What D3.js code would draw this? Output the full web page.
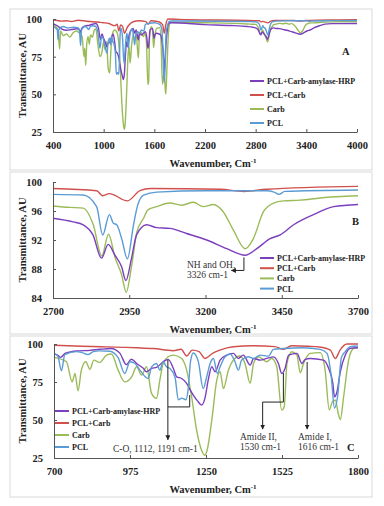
<!DOCTYPE html>
<html>
<head>
<meta charset="utf-8">
<script src="https://cdn.jsdelivr.net/npm/d3@7"></script>
<style>
  body { margin: 0; background: #fff; }
  svg { display: block; font-family: "Liberation Serif", "DejaVu Serif", serif; }
</style>
</head>
<body>
<script>
// series: [wavenumber, transmittance]
var pclCarbAmylaseHrp = [[400,97],[450,95.5],[500,93.5],[560,92.5],[620,93],[680,93.5],[700,93.4],[714,92.5],[724,91.2],[740,93.8],[763,95],[790,95.5],[830,95.8],[866,96.5],[906,97],[938,94],[962,86.4],[980,90],[1000,87],[1023,84],[1035,81.7],[1053,84],[1071,84.6],[1095,88.3],[1113,89.9],[1132,83.9],[1144,78.4],[1162,77.3],[1180,74.1],[1192,70],[1204,66.4],[1220,62.4],[1234,59.8],[1246,64.2],[1258,76.2],[1271,85],[1283,81.7],[1301,89.4],[1325,92.7],[1349,93.8],[1367,90.5],[1385,92.7],[1410,86.1],[1422,90.5],[1446,89.4],[1470,90.5],[1494,91.5],[1512,87.2],[1524,80.6],[1536,83.9],[1549,92.7],[1579,93.8],[1597,87.2],[1609,89.9],[1627,90.5],[1675,89.4],[1694,83.9],[1709,74.1],[1715,65.3],[1724,68.6],[1736,81.7],[1754,92.7],[1772,97.1],[1800,97.5],[2200,96.3],[2500,95.7],[2700,95],[2766,94.5],[2799,94.1],[2831,92.7],[2859,89.5],[2881,91.4],[2903,89.9],[2925,88.3],[2939,86.4],[2957,89.4],[2974,92.7],[3007,94.1],[3040,93.7],[3083,93.6],[3138,92.9],[3204,92.0],[3270,90.8],[3330,89.9],[3368,90.8],[3412,92.2],[3445,92.7],[3489,94.1],[3554,95.5],[3620,96.6],[3700,96.9],[4000,97]];

var pclCarb = [[400,99.5],[450,99],[500,98.6],[560,98.8],[620,98.3],[700,99.2],[800,98.5],[870,98.2],[950,97.8],[1000,97.5],[1060,97],[1131,95.6],[1160,96.5],[1180,92.1],[1200,96],[1225,95],[1246,90.5],[1275,94],[1300,96],[1349,98.2],[1420,98.8],[1500,98.3],[1528,96.5],[1560,98.8],[1620,98.5],[1660,98],[1700,96],[1718,90.5],[1735,96],[1760,100],[2000,99.5],[2700,99.1],[2843,98.8],[2863,98.1],[2885,98.4],[2944,97.4],[2985,98.8],[3020,99.1],[3250,99],[3326,98.7],[3400,99.0],[3700,99.4],[4000,99.5]];

var carb = [[400,96],[430,95],[460,93],[478,80],[490,92],[520,89],[560,90],[600,88],[640,91],[680,92],[700,91.2],[745,88.3],[766,75.1],[776,80.6],[787,69.2],[799,82.8],[815,88.3],[830,83.3],[844,89.4],[866,87.9],[890,92.7],[908,93.4],[932,82.8],[956,75.1],[981,78.4],[999,85],[1017,79.5],[1035,85],[1053,67.5],[1071,64.2],[1083,76.2],[1095,87.2],[1113,91.6],[1132,92.7],[1162,90.5],[1180,82.8],[1198,65.3],[1216,43.3],[1234,30.1],[1245,26.8],[1254,30.1],[1271,50],[1289,76.2],[1301,81.7],[1313,70.7],[1331,82.8],[1349,89.4],[1373,92.1],[1391,87.2],[1410,74.1],[1422,87.2],[1440,91.6],[1470,88.3],[1488,90.5],[1506,85],[1524,56.5],[1533,58.7],[1543,87.2],[1561,94.9],[1579,92.7],[1591,81.1],[1603,87.2],[1627,93.8],[1663,94.3],[1681,82.8],[1696,56.7],[1708,62.2],[1718,63],[1730,53.2],[1736,50.2],[1748,65.3],[1766,89.4],[1784,97.1],[1800,97.8],[2200,97.5],[2700,96.7],[2756,96.5],[2799,96.4],[2832,94.1],[2860,89.8],[2882,92.8],[2904,89.5],[2925,87.2],[2940,84.8],[2958,88.5],[2975,93.1],[2997,95.0],[3012,96.2],[3040,96.6],[3083,97.1],[3122,96.8],[3160,97.2],[3193,96.6],[3226,96.9],[3258,95.9],[3291,93.4],[3330,90.8],[3357,92.2],[3390,95.9],[3423,97.1],[3456,97.4],[3510,97.5],[3576,97.8],[3700,98.1],[4000,98.3]];

var pcl = [[400,95],[430,94],[450,93],[460,86],[470,93],[520,95],[580,94],[640,94.5],[700,94],[714,92],[727,82.4],[739,93],[781,95],[799,94.5],[823,93],[842,95],[866,95.5],[902,95.2],[932,91],[956,80.6],[975,88.3],[993,87.2],[1011,82.8],[1041,77.3],[1053,85],[1071,87.2],[1083,82.8],[1095,88.3],[1107,85],[1119,84],[1138,78],[1150,63.3],[1162,64.4],[1177,63.3],[1186,71],[1194,88.6],[1204,94.1],[1222,88.6],[1240,70.7],[1252,78],[1265,87.2],[1277,90.5],[1291,80.6],[1301,85],[1319,91.6],[1337,93.4],[1355,88.3],[1367,82.8],[1379,89.4],[1403,91.6],[1422,90.5],[1446,92.7],[1476,92],[1494,96.5],[1530,97],[1600,97.5],[1663,96.5],[1688,93.8],[1703,79],[1715,57.8],[1726,65.3],[1740,91.2],[1754,95],[1772,98.2],[1800,98.7],[2700,98.3],[2799,98.2],[2843,96.6],[2863,92.7],[2885,95.5],[2898,94.3],[2909,94.1],[2925,92.2],[2944,89.4],[2964,94.1],[2977,96.7],[2997,98.2],[3040,98.6],[3200,98.8],[3400,98.8],[3425,98.6],[3441,98.3],[3460,98.7],[3700,98.9],[4000,99]];

var seriesNames = ["PCL+Carb-amylase-HRP", "PCL+Carb", "Carb", "PCL"];
var seriesData = [pclCarbAmylaseHrp, pclCarb, carb, pcl];
var seriesColors = ["#7b3fbe", "#d0504d", "#9bbb59", "#5b9bd5"];
var drawOrder = [2, 1, 0, 3];

// ticks
var ticksA = { x: [400, 1000, 1600, 2200, 2800, 3400, 4000], y: [25, 50, 75, 100] };
var ticksB = { x: [2700, 2950, 3200, 3450, 3700], y: [84, 88, 92, 96, 100] };
var ticksC = { x: [700, 975, 1250, 1525, 1800], y: [25, 50, 75, 100] };

var width = 384, height = 506;

var svg = d3.select("body").append("svg")
    .attr("width", width)
    .attr("height", height);

svg.append("defs").append("marker")
    .attr("id", "arrow")
    .attr("viewBox", "0 0 10 10")
    .attr("refX", 9).attr("refY", 5)
    .attr("markerWidth", 5).attr("markerHeight", 5)
    .attr("orient", "auto")
  .append("path")
    .attr("d", "M0,0 L10,5 L0,10 z")
    .attr("fill", "#222");

var panels = [
  { letter: "A", ticks: ticksA, box: [10, 9, 362, 161], x0: 53, x1: 357, y0: 19, y1: 132,
    legend: [250, 81, 14], letterPos: [342, 55] },
  { letter: "B", ticks: ticksB, box: [10, 172, 362, 162], x0: 53, x1: 358, y0: 182, y1: 298,
    legend: [260, 258, 10.2], letterPos: [352, 225] },
  { letter: "C", ticks: ticksC, box: [10, 336, 362, 161], x0: 54, x1: 358, y0: 344, y1: 458,
    legend: [55, 411, 12], letterPos: [347, 451] }
];

panels.forEach(function(p, pi) {
  var xDom = d3.extent(p.ticks.x), yDom = d3.extent(p.ticks.y);
  var x = d3.scaleLinear().domain(xDom).range([p.x0, p.x1]);
  var y = d3.scaleLinear().domain(yDom).range([p.y1, p.y0]);
  p.x = x; p.y = y;

  var g = svg.append("g").attr("class", "panel");

  g.append("rect")
    .attr("x", p.box[0]).attr("y", p.box[1])
    .attr("width", p.box[2]).attr("height", p.box[3])
    .attr("fill", "#fff").attr("stroke", "#d9d9d9");

  g.append("clipPath").attr("id", "clip" + pi)
    .append("rect")
      .attr("x", p.x0).attr("y", p.y0 - 2)
      .attr("width", p.x1 - p.x0).attr("height", p.y1 - p.y0 + 2);

  var line = d3.line()
    .x(function(d) { return x(d[0]); })
    .y(function(d) { return y(d[1]); })
    .curve(d3.curveMonotoneX);

  var lines = g.append("g").attr("clip-path", "url(#clip" + pi + ")");
  drawOrder.forEach(function(i) {
    var pts = seriesData[i].filter(function(d, k, arr) {
      var prev = arr[k - 1], next = arr[k + 1];
      return (d[0] >= xDom[0] && d[0] <= xDom[1]) ||
             (next && next[0] > xDom[0] && d[0] < xDom[0]) ||
             (prev && prev[0] < xDom[1] && d[0] > xDom[1]);
    });
    lines.append("path")
      .attr("d", line(pts))
      .attr("fill", "none")
      .attr("stroke", seriesColors[i])
      .attr("stroke-width", 1.4)
      .attr("stroke-linejoin", "round");
  });

  var xAxis = g.append("g")
    .attr("transform", "translate(0," + p.y1 + ")")
    .call(d3.axisBottom(x).tickValues(p.ticks.x).tickSize(-3).tickSizeOuter(0).tickPadding(10).tickFormat(d3.format("d")));
  var yAxis = g.append("g")
    .attr("transform", "translate(" + p.x0 + ",0)")
    .call(d3.axisLeft(y).tickValues(p.ticks.y).tickSize(-3).tickSizeOuter(0).tickPadding(11).tickFormat(d3.format("d")));

  [xAxis, yAxis].forEach(function(a) {
    a.select(".domain").attr("stroke", "#555");
    a.selectAll(".tick line").attr("stroke", "#555");
    a.selectAll("text")
      .attr("font-family", "Liberation Serif, serif")
      .attr("font-weight", "bold")
      .attr("font-size", 10.5)
      .attr("fill", "#222");
  });

  // axis titles
  var xt = g.append("text")
    .attr("x", 213).attr("y", p.y1 + 35)
    .attr("text-anchor", "middle")
    .attr("font-weight", "bold").attr("font-size", 10.5).attr("fill", "#222")
    .text("Wavenumber, Cm");
  xt.append("tspan").attr("dy", -4).attr("font-size", 7).text("-1");

  g.append("text")
    .attr("transform", "translate(25.5," + ((p.y0 + p.y1) / 2) + ") rotate(-90)")
    .attr("text-anchor", "middle")
    .attr("font-weight", "bold").attr("font-size", 10.5).attr("fill", "#222")
    .text("Transmittance, AU");

  // legend
  var lg = g.append("g");
  seriesNames.forEach(function(name, i) {
    var ly = p.legend[1] + i * p.legend[2];
    lg.append("line")
      .attr("x1", p.legend[0]).attr("x2", p.legend[0] + 14)
      .attr("y1", ly).attr("y2", ly)
      .attr("stroke", seriesColors[i]).attr("stroke-width", 2);
    lg.append("text")
      .attr("x", p.legend[0] + 17).attr("y", ly + 3)
      .attr("font-weight", "bold").attr("font-size", 8).attr("fill", "#222")
      .text(name);
  });

  g.append("text")
    .attr("x", p.letterPos[0]).attr("y", p.letterPos[1])
    .attr("font-weight", "bold").attr("font-size", 10.5).attr("fill", "#222")
    .text(p.letter);
});

// annotations
function path(pts) {
  return d3.line()(pts);
}
var B = panels[1], C = panels[2];
var ann = svg.append("g")
  .attr("fill", "none").attr("stroke", "#222").attr("stroke-width", 1);

ann.append("path")
  .attr("d", path([[B.x(3326), B.y(89.6)], [B.x(3326), B.y(87.8)], [B.x(3285), B.y(87.8)]]))
  .attr("marker-end", "url(#arrow)");

ann.append("path")
  .attr("d", path([[C.x(1191), C.y(66.4)], [C.x(1191), C.y(58.6)], [C.x(1112), C.y(58.6)]]));
ann.append("path")
  .attr("d", path([[C.x(1112), C.y(89.5)], [C.x(1112), C.y(37)]]))
  .attr("marker-end", "url(#arrow)");

ann.append("path")
  .attr("d", path([[C.x(1530), C.y(80.9)], [C.x(1530), C.y(61.8)], [C.x(1455), C.y(61.8)], [C.x(1455), C.y(44)]]))
  .attr("marker-end", "url(#arrow)");

ann.append("path")
  .attr("d", path([[C.x(1616), C.y(88.2)], [C.x(1616), C.y(44)]]))
  .attr("marker-end", "url(#arrow)");

var notes = [
  ["NH and OH,", 187, 268], ["3326 cm-1", 187, 277.5],
  ["C-O, 1112, 1191 cm-1", 113, 452],
  ["Amide II,", 240, 440], ["1530 cm-1", 240, 450],
  ["Amide I,", 298, 440], ["1616 cm-1", 298, 450]
];
svg.append("g").selectAll("text")
  .data(notes).enter()
  .append("text")
    .attr("x", function(d) { return d[1]; })
    .attr("y", function(d) { return d[2]; })
    .attr("font-size", 9.5).attr("fill", "#333")
    .text(function(d) { return d[0]; });
</script>
</body>
</html>
